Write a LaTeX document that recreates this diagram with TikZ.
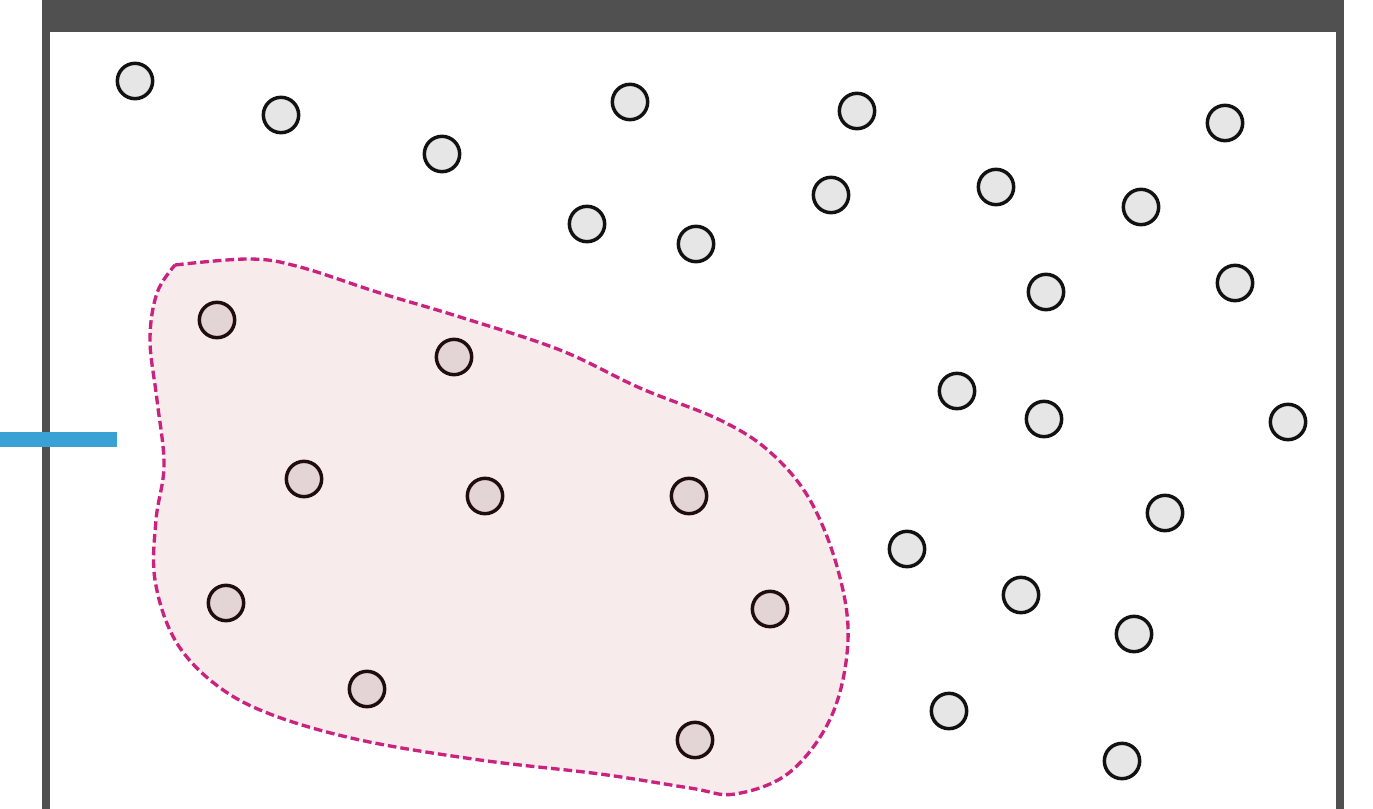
\documentclass[tikz,border=0pt]{standalone}
\usetikzlibrary{calc}
\definecolor{framegray}{HTML}{505050}
\definecolor{barblue}{HTML}{3AA1D4}
\definecolor{blobline}{HTML}{C9237F}
\definecolor{blobfill}{HTML}{F7EBEC}
\definecolor{dotgray}{HTML}{E6E6E6}
\definecolor{dotpink}{HTML}{E3D4D6}
\definecolor{dotedge}{HTML}{111111}
\definecolor{dotedgein}{HTML}{1E0C0E}
\begin{document}
\begin{tikzpicture}[x=0.75pt,y=-0.75pt,
  outdot/.style={circle,draw=dotedge,fill=dotgray,line width=2.6pt,minimum size=26.5pt,inner sep=0pt},
  indot/.style={circle,draw=dotedgein,fill=dotpink,line width=2.6pt,minimum size=26.5pt,inner sep=0pt}]
\useasboundingbox (0,0) rectangle (1373,809);
% frame
\fill[framegray] (42,0) rectangle (1344,32);
\fill[framegray] (42,32) rectangle (50,809);
\fill[framegray] (1336,32) rectangle (1344,809);
% blue bar
\fill[barblue] (0,432) rectangle (117,447);
% blob
\draw[blobline,fill=blobfill,line width=2.5pt,dash pattern=on 6.5pt off 3pt]
 plot[smooth,tension=0.6] coordinates {
 (175,265) (250,259) (300,267) (380,293) (460,317) (560,350) (640,388) (720,420)
 (770,452) (810,500) (838,570) (848,640) (832,715) (790,772) (735,794) (690,788)
 (600,774) (480,760) (360,740) (270,714) (215,684) (175,640) (155,580) (156,520)
 (164,465) (157,400) (150,340) (157,293) (175,265)} -- cycle;
% inner dots
\foreach \x/\y [count=\i] in {217/320,454/357,304/479,485/496,689/496,226/603,770/609,367/689,695/740}
  \node[indot] (in\i) at (\x,\y) {};
% outer dots
\foreach \x/\y [count=\i] in {135/81,281/115,442/154,630/102,857/111,1225/123,587/224,696/244,831/195,996/187,1141/207,1046/292,1235/283,957/391,1044/419,1288/422,1165/513,907/549,1021/595,1134/634,949/711,1122/761}
  \node[outdot] (out\i) at (\x,\y) {};
\end{tikzpicture}
\end{document}
